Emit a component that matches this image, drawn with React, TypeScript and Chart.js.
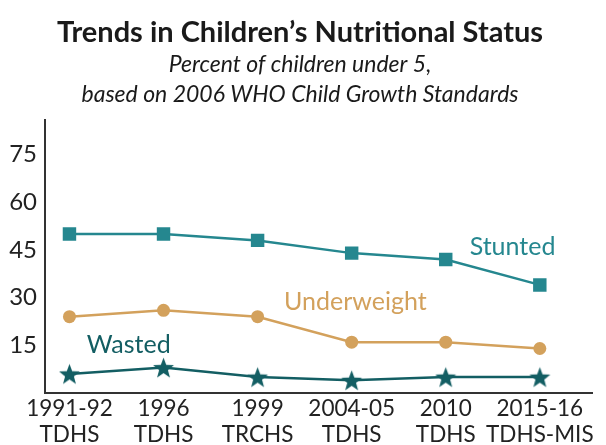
import React, { useEffect, useRef } from "react";
import { Chart, registerables } from "chart.js";

Chart.register(...registerables);

const categories: string[][] = [
  ["1991-92", "TDHS"],
  ["1996", "TDHS"],
  ["1999", "TRCHS"],
  ["2004-05", "TDHS"],
  ["2010", "TDHS"],
  ["2015-16", "TDHS-MIS"],
];
const stunted = [50, 50, 48, 44, 42, 34];
const underweight = [24, 26, 24, 16, 16, 14];
const wasted = [6, 8, 5, 4, 5, 5];
const yTicks = [15, 30, 45, 60, 75];

const seriesLabels = [
  { text: "Stunted", x: 4.71, y: 46, color: "#25878f" },
  { text: "Underweight", x: 3.04, y: 28.5, color: "#d3a15c" },
  { text: "Wasted", x: 0.63, y: 15.2, color: "#135e63" },
];

const FONT = "Lato";

function makeStar(color: string, size: number) {
  const c = document.createElement("canvas");
  c.width = size;
  c.height = size;
  const ctx = c.getContext("2d")!;
  const cx = size / 2, cy = size / 2 + 1;
  const R = size / 2 - 0.5, r = R * 0.42;
  ctx.beginPath();
  for (let i = 0; i < 10; i++) {
    const rad = i % 2 === 0 ? R : r;
    const a = -Math.PI / 2 + (i * Math.PI) / 5;
    const px = cx + rad * Math.cos(a), py = cy + rad * Math.sin(a);
    if (i === 0) ctx.moveTo(px, py); else ctx.lineTo(px, py);
  }
  ctx.closePath();
  ctx.fillStyle = color;
  ctx.fill();
  return c;
}

const labelPlugin = {
  id: "seriesLabels",
  afterDatasetsDraw(chart: any) {
    const { ctx, scales } = chart;
    ctx.save();
    ctx.font = `25px ${FONT}`;
    ctx.textAlign = "center";
    ctx.textBaseline = "middle";
    for (const l of seriesLabels) {
      ctx.fillStyle = l.color;
      ctx.fillText(l.text, scales.x.getPixelForValue(l.x), scales.y.getPixelForValue(l.y));
    }
    ctx.restore();
  },
};

export default function App() {
  const ref = useRef<HTMLCanvasElement>(null);
  useEffect(() => {
    const star = makeStar("#135e63", 23);
    const chart = new Chart(ref.current!, {
      type: "line",
      data: {
        datasets: [
          {
            label: "Stunted",
            data: stunted.map((v, i) => ({ x: i, y: v })),
            borderColor: "#25878f",
            backgroundColor: "#25878f",
            borderWidth: 2.5,
            pointStyle: "rect",
            pointRadius: 9.5,
            pointBorderWidth: 0,
          },
          {
            label: "Underweight",
            data: underweight.map((v, i) => ({ x: i, y: v })),
            borderColor: "#d3a15c",
            backgroundColor: "#d3a15c",
            borderWidth: 2.5,
            pointStyle: "circle",
            pointRadius: 6.5,
            pointBorderWidth: 0,
          },
          {
            label: "Wasted",
            data: wasted.map((v, i) => ({ x: i, y: v })),
            borderColor: "#135e63",
            backgroundColor: "#135e63",
            borderWidth: 2.5,
            pointStyle: star as any,
            pointRadius: 11,
          },
        ],
      },
      options: {
        animation: false,
        responsive: false,
        layout: { padding: { left: 0, right: 6, top: 0, bottom: 0 } },
        plugins: {
          legend: { display: false },
          tooltip: { enabled: false },
          title: {
            display: true,
            text: "Trends in Children\u2019s Nutritional Status",
            color: "#1a1a1a",
            font: { family: FONT, size: 29, weight: "bold", lineHeight: 1.2 },
            padding: { top: 15, bottom: 0 },
          },
          subtitle: {
            display: true,
            text: ["Percent of children under 5,", "based on 2006 WHO Child Growth Standards"],
            color: "#1a1a1a",
            font: { family: FONT, size: 23, style: "italic", lineHeight: 1.3 },
            padding: { top: 0, bottom: 10 },
          },
        },
        scales: {
          x: {
            type: "linear",
            min: -0.26,
            max: 5.56,
            grid: { display: false, drawTicks: false },
            border: { display: true, color: "#333", width: 2 },
            afterBuildTicks: (s: any) => {
              s.ticks = categories.map((_, i) => ({ value: i }));
            },
            afterFit: (s: any) => {
              s.height = 52;
            },
            ticks: {
              autoSkip: false,
              maxRotation: 0,
              padding: 3,
              color: "#222",
              font: { family: FONT, size: 22.5, lineHeight: 1.15 },
              callback: (v: any) => categories[v as number] ?? "",
            },
          },
          y: {
            min: 0,
            max: 86,
            grid: { display: false, drawTicks: false },
            border: { display: true, color: "#333", width: 2 },
            afterBuildTicks: (s: any) => {
              s.ticks = yTicks.map((v) => ({ value: v }));
            },
            afterFit: (s: any) => {
              s.width = 45;
            },
            ticks: {
              padding: 8,
              color: "#222",
              font: { family: FONT, size: 24 },
            },
          },
        },
      },
      plugins: [labelPlugin],
    });
    return () => chart.destroy();
  }, []);
  return (
    <div style={{ position: "fixed", left: 0, top: 0, width: 606, height: 445, background: "#fff" }}>
      <canvas ref={ref} width={606} height={445} style={{ width: 606, height: 445 }} />
    </div>
  );
}
